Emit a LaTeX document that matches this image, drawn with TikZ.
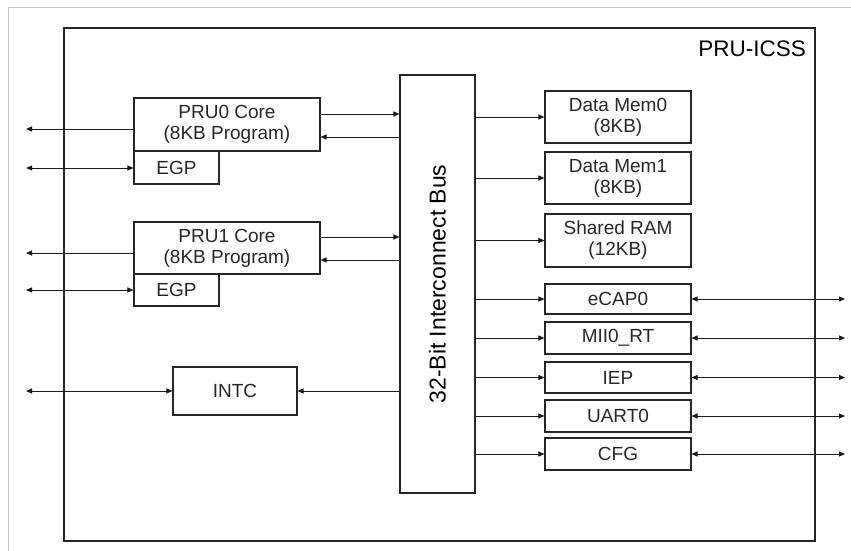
\documentclass[tikz,border=0pt]{standalone}
\usepackage{fontspec}
\setmainfont{Liberation Sans}
\usetikzlibrary{arrows.meta}
\begin{document}
\begin{tikzpicture}[x=1pt,y=-1pt,
  box/.style={draw=black!85,line width=1.1pt,rectangle,inner sep=0pt,align=center,
    font=\fontsize{19}{21}\selectfont,text=black!85},
  conn/.style={line width=1pt,draw=black!90,-{Triangle[length=6pt,width=5pt]}},
  bconn/.style={line width=1pt,draw=black!90,{Triangle[length=6pt,width=5pt]}-{Triangle[length=6pt,width=5pt]}},
  lconn/.style={line width=1pt,draw=black!90,{Triangle[length=6pt,width=5pt]}-}]
\useasboundingbox (0,0) rectangle (851,551);
% light frame
\draw[line width=1pt,draw=black!22] (8,551) -- (8,8) -- (851,8);
% outer block
\node[draw=black!85,line width=1.2pt,minimum width=751pt,minimum height=513pt,inner sep=0pt] (outer) at (439.5,284.5) {};
\node[anchor=base east,font=\fontsize{22.5}{24}\selectfont,inner sep=0pt] (title) at (806,57) {PRU-ICSS};
% left side
\node[box,minimum width=186pt,minimum height=53pt] (pru0) at (227,124.5) {PRU0 Core\\(8KB Program)};
\node[box,minimum width=85pt,minimum height=33pt] (egp0) at (176.5,167.5) {EGP};
\node[box,minimum width=186pt,minimum height=52pt] (pru1) at (227,248) {PRU1 Core\\(8KB Program)};
\node[box,minimum width=85pt,minimum height=32pt] (egp1) at (176.5,290) {EGP};
\node[box,minimum width=124pt,minimum height=48pt] (intc) at (235,391) {INTC};
% bus
\node[box,minimum width=75pt,minimum height=418pt] (bus) at (437.5,284) {};
\node[rotate=90,font=\fontsize{23}{25}\selectfont,inner sep=0pt] (buslabel) at (bus.center) {32-Bit Interconnect Bus};
% right side
\node[box,minimum width=146pt,minimum height=52pt] (dm0) at (618,117) {Data Mem0\\(8KB)};
\node[box,minimum width=146pt,minimum height=52pt] (dm1) at (618,178) {Data Mem1\\(8KB)};
\node[box,minimum width=146pt,minimum height=53pt] (sram) at (618,240.5) {Shared RAM\\(12KB)};
\node[box,minimum width=146pt,minimum height=30pt] (ecap) at (618,299) {eCAP0};
\node[box,minimum width=146pt,minimum height=32pt] (mii) at (618,338) {MII0\_RT};
\node[box,minimum width=146pt,minimum height=31pt] (iep) at (618,377.5) {IEP};
\node[box,minimum width=146pt,minimum height=32pt] (uart) at (618,416) {UART0};
\node[box,minimum width=146pt,minimum height=32pt] (cfg) at (618,454) {CFG};
% free ends
\coordinate (l0) at (26,129);
\coordinate (le0) at (26,168);
\coordinate (l1) at (26,253);
\coordinate (le1) at (26,290);
\coordinate (li) at (26,391);
\coordinate (rx) at (845,0);
% PRU connections
\draw[conn] (pru0.east |- 0,114) -- (bus.west |- 0,114);
\draw[conn] (bus.west |- 0,137) -- (pru0.east |- 0,137);
\draw[conn] (pru1.east |- 0,237) -- (bus.west |- 0,237);
\draw[conn] (bus.west |- 0,260) -- (pru1.east |- 0,260);
\draw[lconn] (l0) -- (pru0.west |- l0);
\draw[bconn] (le0) -- (egp0.west |- le0);
\draw[lconn] (l1) -- (pru1.west |- l1);
\draw[bconn] (le1) -- (egp1.west |- le1);
\draw[bconn] (li) -- (intc.west);
\draw[conn] (bus.west |- intc.east) -- (intc.east);
% bus to memories/peripherals
\foreach \n in {dm0,dm1,sram,ecap,mii,iep,uart,cfg}{
  \draw[conn] (bus.east |- \n.west) -- (\n.west);
}
\foreach \n in {ecap,mii,iep,uart,cfg}{
  \draw[bconn] (\n.east) -- (rx |- \n.east);
}
\end{tikzpicture}
\end{document}
